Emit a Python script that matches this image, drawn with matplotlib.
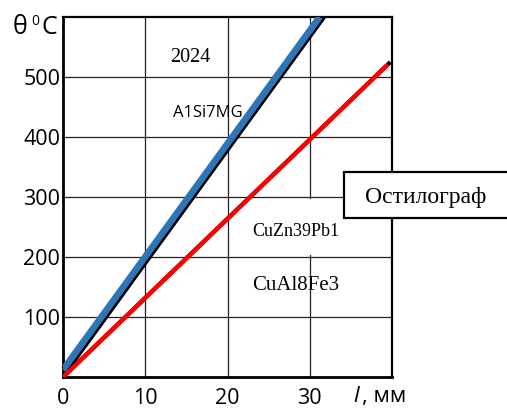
import matplotlib
matplotlib.use("Agg")
import matplotlib.pyplot as plt
from matplotlib.patches import Rectangle

# data (l in mm, theta in deg C)
x_ticks = [0, 10, 20, 30]
y_ticks = [100, 200, 300, 400, 500]

l_blue = [0, 31.2]
t_blue = [12, 600]
l_black_a = [0, 31.8]
t_black_a = [0, 600]
l_red = [0, 39.5]
t_red = [0, 521]
l_black_b = [0, 39.8]
t_black_b = [0, 525]

alloy_labels = ["2024", "A1Si7MG", "CuZn39Pb1", "CuAl8Fe3"]
device_label = "Остилограф"

SANS = ["Open Sans", "DejaVu Sans"]
SERIF = ["Liberation Serif", "DejaVu Serif"]

fig = plt.figure(figsize=(5.07, 4.09), dpi=100)
ax = fig.add_axes([0.1243, 0.0782, 0.6489, 0.8802])

ax.set_xlim(0, 40)
ax.set_ylim(0, 600)
ax.set_xticks(x_ticks)
ax.set_yticks(y_ticks)
ax.set_xticklabels([str(v) for v in x_ticks], family=SANS, fontsize=15.5)
ax.set_yticklabels([str(v) for v in y_ticks], family=SANS, fontsize=15.5)
ax.tick_params(axis="both", length=0)
ax.tick_params(axis="x", pad=8)
ax.tick_params(axis="y", pad=2)

ax.set_axisbelow(True)
ax.grid(True, color="#222222", linewidth=0.9)

for side in ["left", "bottom"]:
    ax.spines[side].set_linewidth(2.0)
for side in ["top", "right"]:
    ax.spines[side].set_linewidth(1.6)

# white patch behind the CuZn39Pb1 label hides part of the 30 mm grid line
ax.add_patch(Rectangle((26, 204), 8, 93, facecolor="white", edgecolor="none", zorder=1))

ax.plot(l_black_a, t_black_a, color="black", linewidth=2.4, solid_capstyle="butt", zorder=2)
ax.plot(l_blue, t_blue, color="#2E75B6", linewidth=4.8, solid_capstyle="butt", zorder=3)
ax.plot(l_black_b, t_black_b, color="black", linewidth=3.0, solid_capstyle="butt", zorder=2)
ax.plot(l_red, t_red, color="#FF0000", linewidth=3.2, solid_capstyle="butt", zorder=3)

ax.text(15.5, 532, alloy_labels[0], family=SERIF, fontsize=14.5, ha="center", va="center", zorder=4)
ax.text(17.6, 440, alloy_labels[1], family=SANS, fontsize=12, ha="center", va="center", zorder=4)
ax.text(23.0, 243, alloy_labels[2], family=SERIF, fontsize=13, ha="left", va="center", zorder=4)
ax.text(23.0, 153, alloy_labels[3], family=SERIF, fontsize=15, ha="left", va="center", zorder=4)

# device box runs off the right edge of the figure
fig.patches.append(Rectangle((0.678, 0.467), 0.34, 0.1125, transform=fig.transFigure,
                             facecolor="white", edgecolor="black", linewidth=1.6, zorder=5))
fig.text(0.840, 0.518, device_label, family=SERIF, fontsize=17, ha="center", va="center", zorder=6)

# axis captions
fig.text(0.024, 0.918, "θ", family=SANS, fontsize=18, ha="left", va="baseline")
fig.text(0.062, 0.938, "0", family=SANS, fontsize=10, ha="left", va="baseline")
fig.text(0.081, 0.918, "C", family=SANS, fontsize=18, ha="left", va="baseline")
fig.text(0.698, 0.016, "l", family=SANS, fontsize=16, style="italic", ha="left", va="baseline")
fig.text(0.714, 0.016, ", мм", family=SANS, fontsize=16, ha="left", va="baseline")

fig.savefig("out.png", dpi=100)
